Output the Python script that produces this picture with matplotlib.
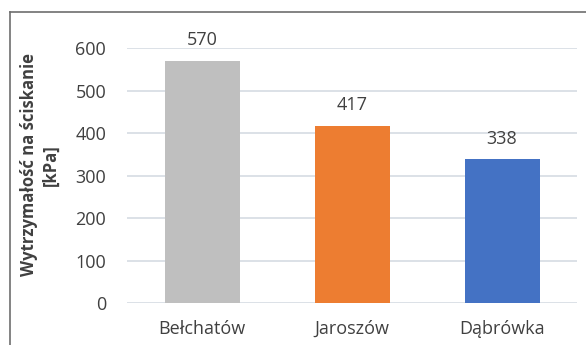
import matplotlib.pyplot as plt
from matplotlib import lines

names = ["Bełchatów", "Jaroszów", "Dąbrówka"]
values = [570, 417, 338]
colors = ["#BFBFBF", "#ED7D31", "#4472C4"]
yticks = [0, 100, 200, 300, 400, 500, 600]

TEXT = "#404040"
FONT = "Open Sans"

fig = plt.figure(figsize=(5.86, 3.45), dpi=100)
fig.set_facecolor("white")
ax = fig.add_axes([127 / 586, 1 - 303 / 345, 450 / 586, 255 / 345])

x = range(len(names))
bars = ax.bar(x, values, width=0.5, color=colors, zorder=2)

ax.set_xlim(-0.5, len(names) - 0.5)
ax.set_ylim(0, 600)
ax.set_yticks(yticks)
ax.set_yticklabels([str(t) for t in yticks], fontsize=13, fontfamily=FONT, color=TEXT)
ax.set_xticks(list(x))
ax.set_xticklabels(names, fontsize=13, fontfamily=FONT, color=TEXT)
ax.tick_params(axis="both", length=0)
ax.tick_params(axis="y", pad=15)
ax.tick_params(axis="x", pad=12)

ax.grid(axis="y", color="#D9DEE5", lw=1.3, zorder=0)
for s in ax.spines.values():
    s.set_visible(False)

for xi, v in zip(x, values):
    ax.annotate(str(v), (xi, v), xytext=(0, 11), textcoords="offset points",
                ha="center", va="baseline", fontsize=13, fontfamily=FONT, color=TEXT)

# y label, two lines
fig.text(40 / 586, 1 - 165 / 345, "Wytrzymałość na ściskanie\n[kPa]",
         rotation=90, ha="center", va="center", fontsize=12,
         fontweight="bold", fontfamily=FONT, color=TEXT, linespacing=1.3)

# frame lines on top and left
fig.add_artist(lines.Line2D([10 / 586, 1], [1 - 12 / 345] * 2, color="#6E6E6E", lw=1.2))
fig.add_artist(lines.Line2D([10 / 586] * 2, [0, 1 - 12 / 345], color="#6E6E6E", lw=1.2))

fig.savefig("out.png", dpi=100)
